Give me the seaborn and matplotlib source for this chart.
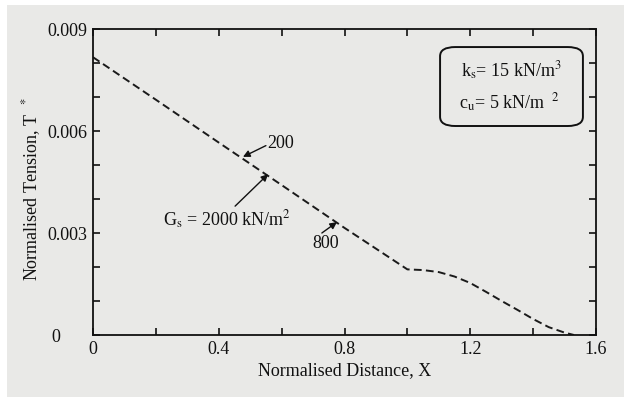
import matplotlib
matplotlib.use("Agg")
import matplotlib.pyplot as plt
from matplotlib.patches import FancyBboxPatch, Rectangle
import seaborn as sns
import pandas as pd

# ---- data ----
distance_x = [0.0, 0.2, 0.4, 0.6, 0.8, 1.0, 1.05, 1.1, 1.15, 1.2, 1.25,
              1.3, 1.35, 1.4, 1.45, 1.5, 1.53]
tension_t = [0.00817, 0.00692, 0.00566, 0.00441, 0.00315, 0.00193, 0.00191,
             0.00185, 0.00172, 0.00153, 0.00127, 0.00100, 0.00074, 0.00047,
             0.00023, 0.00007, 0.0]

x_ticks_major = [0.0, 0.4, 0.8, 1.2, 1.6]
x_tick_labels = ["0", "0.4", "0.8", "1.2", "1.6"]
x_ticks_minor = [0.2, 0.6, 1.0, 1.4]
y_ticks_major = [0.0, 0.003, 0.006, 0.009]
y_tick_labels = ["0      ", "0.003", "0.006", "0.009"]
y_ticks_minor = [0.001, 0.002, 0.004, 0.005, 0.007, 0.008]

# annotation labels: (text, text position, arrow tail, arrow head)
annotations = [
    ("200", (0.597, 0.00563), (0.550, 0.00557), (0.477, 0.00524)),
    (r"G$_\mathrm{s}$ = 2000 kN/m$^2$", (0.425, 0.00338), (0.452, 0.00379),
     (0.557, 0.00473)),
    ("800", (0.740, 0.00268), (0.728, 0.00300), (0.776, 0.00332)),
]

df = pd.DataFrame({"X": distance_x, "T": tension_t})

sns.set_theme(style="white")
plt.rcParams["font.family"] = ["Liberation Serif", "DejaVu Serif"]
plt.rcParams["mathtext.fontset"] = "stix"

ink = "#111111"
paper = "#e9e9e7"
fs = 13
fig = plt.figure(figsize=(6.24, 4.01), dpi=100, facecolor="white")
# scanned paper background
fig.patches.append(Rectangle((7 / 624, 4 / 401), 617 / 624, 392 / 401,
                             transform=fig.transFigure, facecolor=paper,
                             edgecolor="none", zorder=-10))
ax = fig.add_axes([93 / 624, 66 / 401, 503 / 624, 306 / 401])
ax.set_facecolor(paper)

sns.lineplot(data=df, x="X", y="T", ax=ax, color="#1a1a1a", linewidth=1.4,
             linestyle=(0, (4, 2.2)), sort=False)

ax.set_xlim(0, 1.6)
ax.set_ylim(0, 0.009)
ax.set_xticks(x_ticks_major)
ax.set_xticklabels(x_tick_labels)
ax.set_xticks(x_ticks_minor, minor=True)
ax.set_yticks(y_ticks_major)
ax.set_yticklabels(y_tick_labels)
ax.set_yticks(y_ticks_minor, minor=True)

for s in ax.spines.values():
    s.set_color(ink)
    s.set_linewidth(1.3)

ax.tick_params(which="both", direction="in", top=True, right=True,
               bottom=True, left=True, color=ink, width=1.2,
               labelsize=fs, labelcolor=ink)
ax.tick_params(which="major", length=5, pad=4)
ax.tick_params(which="minor", length=5)

ax.set_xlabel("Normalised Distance, X", fontsize=fs, color=ink)
ax.set_ylabel(r"Normalised Tension, T $^{\ *}$", fontsize=fs, color=ink)
ax.xaxis.set_label_coords(0.501, -0.090)
ax.yaxis.set_label_coords(-0.099, 0.475)

for text, (tx, ty), (ax0, ay0), (px, py) in annotations:
    ax.text(tx, ty, text, fontsize=fs, color=ink, ha="center", va="center")
    ax.annotate("", xy=(px, py), xytext=(ax0, ay0),
                arrowprops=dict(arrowstyle="-|>", color=ink, lw=1.0,
                                shrinkA=0, shrinkB=0, mutation_scale=10))

box = FancyBboxPatch((0.690, 0.683), 0.284, 0.258,
                     boxstyle="round,pad=0,rounding_size=0.03",
                     transform=ax.transAxes, facecolor="none",
                     edgecolor=ink, linewidth=1.4)
ax.add_patch(box)
ax.text(0.832, 0.862, r"k$_\mathrm{s}$= 15 kN/m$^3$", transform=ax.transAxes,
        fontsize=fs, ha="center", va="center", color=ink)
ax.text(0.828, 0.758, r"c$_\mathrm{u}$= 5 kN/m $^{\ 2}$",
        transform=ax.transAxes, fontsize=fs, ha="center", va="center",
        color=ink)

sns.despine(ax=ax, top=False, right=False)
fig.savefig("out.png", dpi=100, facecolor="white")
